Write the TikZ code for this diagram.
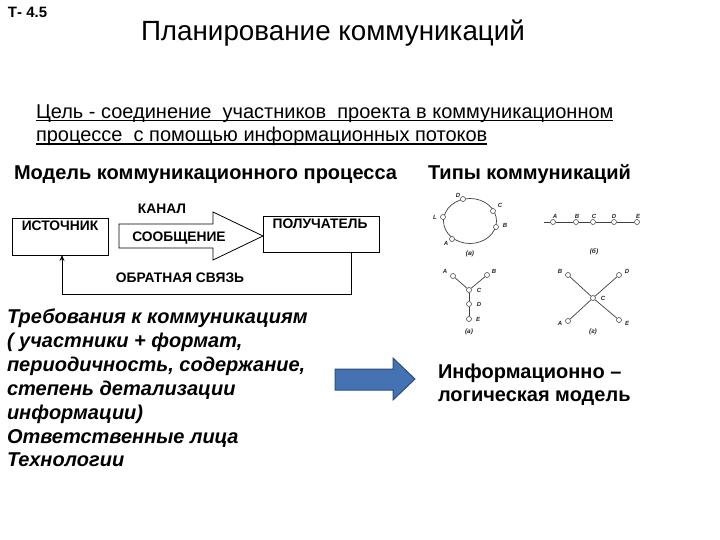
\documentclass[tikz,border=0pt]{standalone}
\usepackage{fontspec}
\setmainfont{Liberation Sans}
\usetikzlibrary{arrows.meta}
\definecolor{arrfill}{RGB}{68,114,178}
\definecolor{arrdraw}{RGB}{44,78,124}
\tikzset{
 txt/.style={anchor=base west,inner sep=0pt,outer sep=0pt,align=left},
 boxn/.style={draw=black,line width=0.8pt,minimum width=#1,inner sep=0pt,anchor=north west},
 lbl/.style={anchor=base,inner sep=0pt,font=\fontsize{13.8}{16}\selectfont\bfseries},
 dot/.style={circle,draw=black!70,fill=white,line width=0.6pt,minimum size=5pt,inner sep=0pt},
 net/.style={draw=black!75,line width=0.7pt},
 netlbl/.style={inner sep=0pt,font=\fontsize{6}{7}\selectfont\bfseries\itshape,text=black!85},
 netcap/.style={inner sep=0pt,font=\fontsize{6.5}{7}\selectfont\bfseries\itshape,text=black!85}
}
\begin{document}
\begin{tikzpicture}[x=1pt,y=-1pt]
\useasboundingbox (0,0) rectangle (720,540);
\fill[white] (0,0) rectangle (720,540);
\node[txt,font=\fontsize{15}{17}\selectfont\bfseries] (tnum) at (8,17.5) {Т- 4.5};
\node[txt,font=\fontsize{27.8}{30}\selectfont] (title) at (141,41) {Планирование коммуникаций};
\node[txt,font=\fontsize{20}{24}\selectfont] (goal1) at (36,118.5) {Цель - соединение\ \ участников\ \ проекта в коммуникационном};
\node[txt,font=\fontsize{20}{24}\selectfont] (goal2) at (36,141.5) {процессе\ \ с помощью информационных потоков};
\draw[line width=1.3pt] ([yshift=-2pt]goal1.base west) -- ([yshift=-2pt]goal1.base east);
\draw[line width=1.3pt] ([yshift=-2.5pt]goal2.base west) -- ([yshift=-2.5pt]goal2.base east);
\node[txt,font=\fontsize{20}{24}\selectfont\bfseries] (model) at (14,180) {Модель коммуникационного процесса};
\node[txt,font=\fontsize{20}{24}\selectfont\bfseries] (types) at (428,180) {Типы коммуникаций};
% process model
\node[boxn=96pt,minimum height=37pt] (src) at (12,218) {};
\node[lbl] (srct) at (60,230) {ИСТОЧНИК};
\node[boxn=116pt,minimum height=36pt] (dst) at (263,216) {};
\node[lbl] (dstt) at (320,229) {ПОЛУЧАТЕЛЬ};
\draw[line width=0.8pt,fill=white] (119,224) -- (213,224) -- (213,212) -- (263,236) -- (213,260) -- (213,248) -- (119,248) -- cycle;
\node[lbl] (chan) at (162,214) {КАНАЛ};
\node[lbl] (msg) at (179,241) {СООБЩЕНИЕ};
\node[lbl] (fb) at (180,282) {ОБРАТНАЯ СВЯЗЬ};
\coordinate (fbs) at (351,252);
\coordinate (fbe) at (62,255);
\draw[line width=0.8pt,-{Stealth[length=6pt,width=5pt]}] (fbs) -- (351,294) -- (62,294) -- (fbe);
% requirements
\node[txt,font=\fontsize{20}{24}\selectfont\bfseries\itshape] (r1) at (7,323) {Требования к коммуникациям};
\node[txt,font=\fontsize{20}{24}\selectfont\bfseries\itshape] (r2) at (7,347) {( участники + формат,};
\node[txt,font=\fontsize{20}{24}\selectfont\bfseries\itshape] (r3) at (7,371) {периодичность, содержание,};
\node[txt,font=\fontsize{20}{24}\selectfont\bfseries\itshape] (r4) at (7,395) {степень детализации};
\node[txt,font=\fontsize{20}{24}\selectfont\bfseries\itshape] (r5) at (7,419) {информации)};
\node[txt,font=\fontsize{20}{24}\selectfont\bfseries\itshape] (r6) at (7,443) {Ответственные лица};
\node[txt,font=\fontsize{20}{24}\selectfont\bfseries\itshape] (r7) at (7,466) {Технологии};
% blue arrow
\draw[draw=arrdraw,fill=arrfill,line width=1pt] (335,369) -- (393,369) -- (393,358) -- (415,379) -- (393,400) -- (393,390) -- (335,390) -- cycle;
\node[txt,font=\fontsize{20}{24}\selectfont\bfseries] (i1) at (438,378) {Информационно –};
\node[txt,font=\fontsize{20}{24}\selectfont\bfseries] (i2) at (438,401) {логическая модель};
% ring
\draw[net] (470,221) ellipse [x radius=26.5,y radius=22.5];
\foreach \n/\x/\y/\t/\lx/\ly in {ra/452/239/A/446/243,rb/496/227/B/505/225,rc/493/211/C/500/205,rd/463/199/D/458/195,rl/443/217/L/435/217}{
 \node[dot] (\n) at (\x,\y) {};
 \node[netlbl] (\n t) at (\lx,\ly) {\t};
}
\node[netcap] (capa) at (470,254) {(в)};
% line
\node[dot] (la) at (553,222) {};
\node[dot] (lb) at (576,222) {};
\node[dot] (lc) at (593,222) {};
\node[dot] (ld) at (614,222) {};
\node[dot] (le) at (637,222) {};
\coordinate (l0) at (544,222);
\draw[net] (l0) -- (la) -- (lb) -- (lc) -- (ld) -- (le);
\foreach \n/\x/\t in {la/555/A,lb/577/B,lc/594/C,ld/614/D,le/638/E}{
 \node[netlbl] (\n t) at (\x,216) {\t};
}
\node[netcap] (capb) at (594,252) {(б)};
% Y
\node[dot] (ya) at (453,276) {};
\node[dot] (yb) at (487,275) {};
\node[dot] (yc) at (469,290) {};
\node[dot] (yd) at (469,304) {};
\node[dot] (ye) at (469,319) {};
\draw[net] (ya) -- (yc); \draw[net] (yb) -- (yc); \draw[net] (yc) -- (yd); \draw[net] (yd) -- (ye);
\foreach \n/\x/\y/\t in {ya/445/271/A,yb/494/271/B,yc/479/290/C,yd/479/304/D,ye/478/319/E}{
 \node[netlbl] (\n t) at (\x,\y) {\t};
}
\node[netcap] (capc) at (469,332) {(а)};
% X
\node[dot] (xb) at (568,275) {};
\node[dot] (xd) at (619,275) {};
\node[dot] (xc) at (593,298) {};
\node[dot] (xa) at (568,321) {};
\node[dot] (xe) at (619,320) {};
\draw[net] (xb) -- (xc); \draw[net] (xd) -- (xc); \draw[net] (xa) -- (xc); \draw[net] (xe) -- (xc);
\foreach \n/\x/\y/\t in {xb/560/271/B,xd/627/271/D,xc/603/298/C,xa/560/323/A,xe/627/323/E}{
 \node[netlbl] (\n t) at (\x,\y) {\t};
}
\node[netcap] (capd) at (593,332) {(г)};
\end{tikzpicture}
\end{document}
